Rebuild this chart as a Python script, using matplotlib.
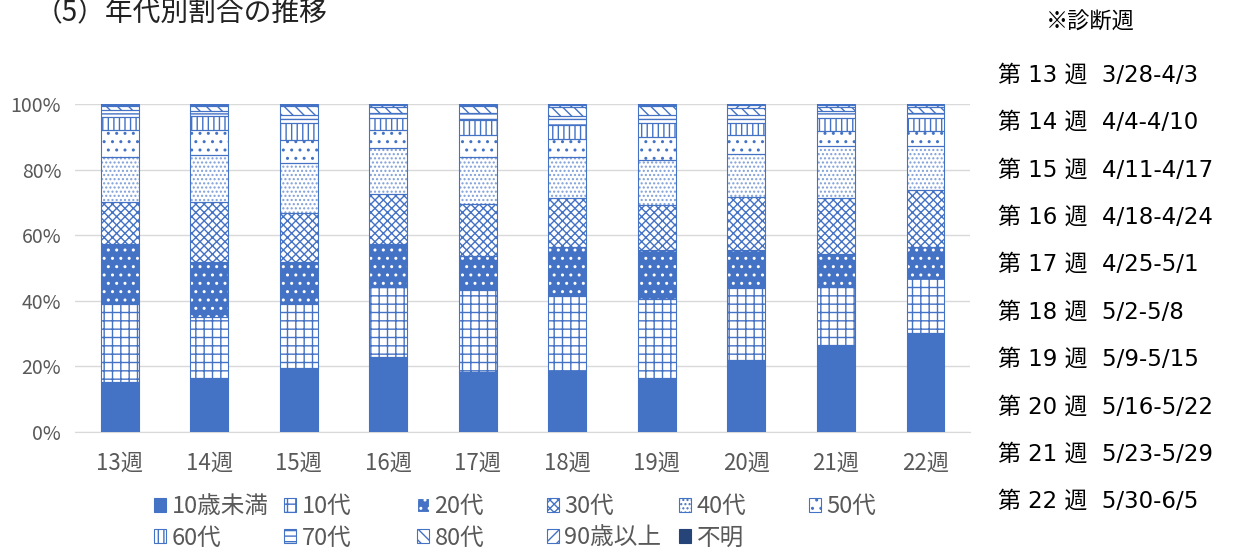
import matplotlib
matplotlib.use('Agg')
import matplotlib.pyplot as plt
from matplotlib.patches import Patch
from matplotlib.ticker import PercentFormatter
import numpy as np

plt.rcParams['font.family'] = ['Noto Sans CJK JP', 'DejaVu Sans']
plt.rcParams['hatch.linewidth'] = 1.0

weeks = ['13週', '14週', '15週', '16週', '17週', '18週', '19週', '20週', '21週', '22週']
age_groups = ['10歳未満', '10代', '20代', '30代', '40代', '50代',
              '60代', '70代', '80代', '90歳以上', '不明']

# share of cases per week (%)
under10 = [15.2, 16.5, 19.5, 22.9, 18.3, 18.6, 16.5, 22.0, 26.5, 30.2]
age10s = [23.8, 18.5, 19.5, 21.3, 25.0, 22.9, 24.0, 21.9, 18.0, 16.8]
age20s = [18.3, 16.8, 12.8, 13.1, 10.4, 14.9, 15.0, 11.6, 9.8, 9.4]
age30s = [12.8, 18.3, 15.0, 15.3, 15.8, 14.9, 13.7, 16.1, 17.0, 17.4]
age40s = [13.6, 14.4, 15.2, 14.0, 14.2, 12.4, 13.8, 13.2, 15.8, 13.3]
age50s = [8.5, 7.5, 7.1, 5.4, 6.7, 5.7, 6.8, 5.6, 4.6, 4.8]
age60s = [3.8, 4.2, 5.1, 3.7, 4.8, 4.3, 4.4, 3.8, 4.0, 3.8]
age70s = [2.3, 1.6, 2.5, 1.6, 2.1, 2.5, 2.5, 2.5, 2.1, 1.6]
age80s = [1.1, 1.5, 2.6, 1.7, 2.0, 2.8, 2.6, 2.1, 1.2, 1.7]
over90 = [0.4, 0.5, 0.5, 0.8, 0.5, 0.8, 0.5, 1.0, 0.8, 0.8]
unknown = [0.2, 0.2, 0.2, 0.2, 0.2, 0.2, 0.2, 0.2, 0.2, 0.2]

week_ranges = ['3/28-4/3', '4/4-4/10', '4/11-4/17', '4/18-4/24', '4/25-5/1',
               '5/2-5/8', '5/9-5/15', '5/16-5/22', '5/23-5/29', '5/30-6/5']

series = [under10, age10s, age20s, age30s, age40s, age50s,
          age60s, age70s, age80s, over90, unknown]

BLUE = '#4472C4'
# (facecolor, hatch, hatch colour)
styles = [
    (BLUE, None, BLUE),
    ('white', '++', BLUE),
    (BLUE, '..', 'white'),
    ('white', 'xxxx', BLUE),
    ('white', '....', '#7F9FD8'),
    ('white', '..', BLUE),
    ('white', '|||', BLUE),
    ('white', '---', BLUE),
    ('white', '\\\\\\', BLUE),
    ('white', '///', BLUE),
    ('#264478', None, '#264478'),
]

fig = plt.figure(figsize=(12.34, 5.57), dpi=100)
ax = fig.add_axes([0.0608, 0.2244, 0.7253, 0.5889])

x = np.arange(len(weeks))
bottom = np.zeros(len(weeks))
for vals, (fc, hatch, hc) in zip(series, styles):
    frac = np.array(vals) / 100
    ax.bar(x, frac, 0.42, bottom=bottom, color=fc, hatch=hatch,
           edgecolor=hc, linewidth=0, zorder=3)
    ax.bar(x, frac, 0.42, bottom=bottom, fill=False,
           edgecolor=BLUE, linewidth=0.8, zorder=4)
    bottom += frac

ax.set_xlim(-0.5, len(weeks) - 0.5)
ax.set_ylim(0, 1)
ax.set_yticks(np.linspace(0, 1, 6))
ax.yaxis.set_major_formatter(PercentFormatter(1.0, decimals=0))
ax.set_xticks(x)
ax.set_xticklabels(weeks)
ax.grid(axis='y', color='#D9D9D9', linewidth=1, zorder=0)
for side in ['top', 'right', 'left']:
    ax.spines[side].set_visible(False)
ax.spines['bottom'].set_color('#D9D9D9')
ax.tick_params(axis='both', length=0, colors='#595959')
ax.tick_params(axis='y', labelsize=14, pad=10)
ax.tick_params(axis='x', labelsize=16, pad=14)

# legend laid out as fixed-width columns, two rows
handles = [Patch(facecolor=fc, hatch=h, edgecolor=hc if fc != 'white' else BLUE,
                 linewidth=0.8)
           for fc, h, hc in styles]
col_x = [154, 284, 417, 547, 679, 809]
for c in range(6):
    idx = [c, c + 6] if c + 6 < len(age_groups) else [c]
    fig.legend([handles[i] for i in idx], [age_groups[i] for i in idx],
               loc='upper left', bbox_to_anchor=(col_x[c] / 1234, 1 - 495 / 557),
               frameon=False, fontsize=17, labelcolor='#595959',
               handlelength=0.52, handleheight=0.52, handletextpad=0.22,
               borderpad=0, borderaxespad=0, labelspacing=0.36)

fig.text(35 / 1234, 1 - 13 / 557, '（5）年代別割合の推移', fontsize=20,
         va='center', ha='left', color='#222222')

fig.text(1090 / 1234, 1 - 22 / 557, '※診断週', fontsize=16, ha='center',
         va='center', color='black')
for i, (w, r) in enumerate(zip(weeks, week_ranges)):
    y = 75 + i * 47.4
    fig.text(998 / 1234, 1 - y / 557, '第 %s 週  %s' % (w[:-1], r), fontsize=16.5,
             ha='left', va='center', color='black',
             family=['DejaVu Sans', 'Noto Sans CJK JP'])

fig.savefig('out.png', dpi=100)
